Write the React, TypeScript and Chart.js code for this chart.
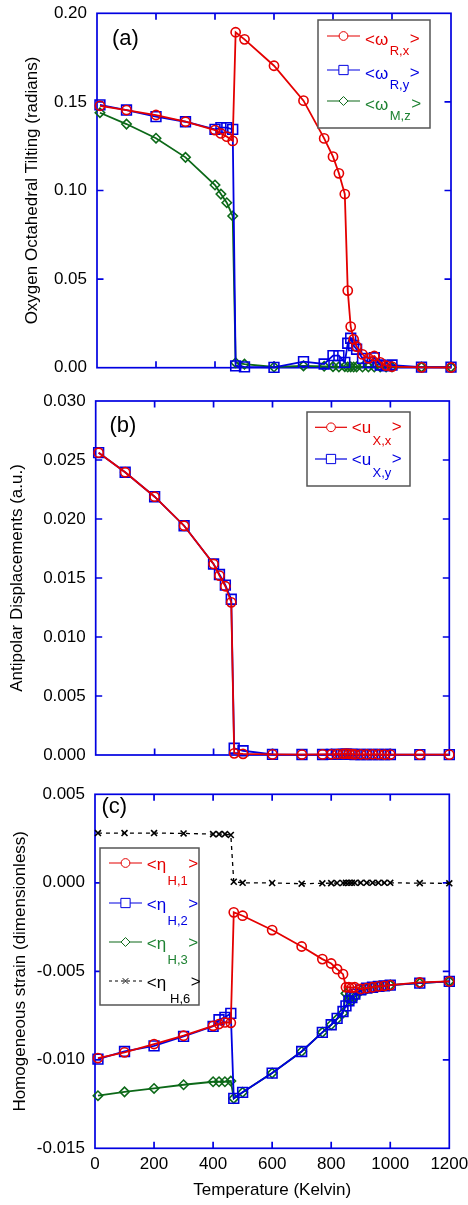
import React, { useEffect, useRef } from 'react';
import { Chart, registerables } from 'chart.js';

Chart.register(...registerables);

const FONT = "'Liberation Sans', Arial, Helvetica, sans-serif";

// ---------- data ----------
const TEMPS = [10, 100, 200, 300, 400, 420, 440, 460, 470, 500, 600, 700, 770, 800, 820, 840, 850, 860, 870, 880, 900, 920, 940, 960, 980, 1000, 1100, 1200];

const OMEGA_RX = [0.1478, 0.1454, 0.1426, 0.1388, 0.1341, 0.1322, 0.1304, 0.1280, 0.1893, 0.1853, 0.1704, 0.1507, 0.1294, 0.1191, 0.1097, 0.0980, 0.0435, 0.0232, 0.0160, 0.0119, 0.0075, 0.0053, 0.0066, 0.0030, 0.0012, 0.0006, 0.0002, 0.0001];
const OMEGA_RY = [0.1483, 0.1454, 0.1417, 0.1388, 0.1345, 0.1355, 0.1355, 0.1345, 0.0010, 0.0005, 0.0002, 0.0034, 0.0021, 0.0068, 0.0068, 0.0030, 0.0138, 0.0166, 0.0125, 0.0104, 0.0053, 0.0030, 0.0056, 0.0015, 0.0010, 0.0015, 0.0003, 0.0003];
const OMEGA_MZ = [0.1439, 0.1375, 0.1295, 0.1187, 0.1031, 0.0980, 0.0931, 0.0856, 0.0028, 0.0020, 0.0004, 0.0010, 0.0008, 0.0006, 0.0005, 0.0006, 0.0004, 0.0005, 0.0004, 0.0005, 0.0004, 0.0005, 0.0004, 0.0005, 0.0004, 0.0004, 0.0003, 0.0003];

const U_XX = [0.02562, 0.02396, 0.02189, 0.01943, 0.01619, 0.01520, 0.01430, 0.01294, 0.00014, 0.00010, 0.00005, 0.00004, 0.00005, 0.00006, 0.00008, 0.00010, 0.00012, 0.00010, 0.00008, 0.00006, 0.00006, 0.00005, 0.00006, 0.00005, 0.00004, 0.00004, 0.00003, 0.00003];
const U_XY = [0.02562, 0.02396, 0.02189, 0.01943, 0.01619, 0.01530, 0.01440, 0.01320, 0.00057, 0.00036, 0.00005, 0.00004, 0.00004, 0.00005, 0.00005, 0.00006, 0.00006, 0.00005, 0.00005, 0.00004, 0.00004, 0.00004, 0.00004, 0.00004, 0.00004, 0.00004, 0.00003, 0.00003];

const ETA_H1 = [-0.00990, -0.00958, -0.00911, -0.00864, -0.00808, -0.00798, -0.00789, -0.00791, -0.00167, -0.00186, -0.00267, -0.00360, -0.00431, -0.00456, -0.00488, -0.00516, -0.00590, -0.00590, -0.00592, -0.00590, -0.00600, -0.00595, -0.00590, -0.00585, -0.00582, -0.00578, -0.00563, -0.00557];
const ETA_H2 = [-0.00996, -0.00953, -0.00921, -0.00868, -0.00811, -0.00774, -0.00760, -0.00738, -0.01218, -0.01184, -0.01075, -0.00953, -0.00845, -0.00802, -0.00766, -0.00727, -0.00695, -0.00667, -0.00648, -0.00629, -0.00605, -0.00595, -0.00590, -0.00585, -0.00582, -0.00578, -0.00567, -0.00557];
const ETA_H3 = [-0.01203, -0.01181, -0.01162, -0.01141, -0.01124, -0.01124, -0.01124, -0.01120, -0.01218, -0.01184, -0.01075, -0.00953, -0.00845, -0.00802, -0.00770, -0.00736, -0.00625, -0.00660, -0.00665, -0.00645, -0.00610, -0.00600, -0.00592, -0.00585, -0.00582, -0.00578, -0.00567, -0.00557];
const ETA_H6 = [0.00281, 0.00281, 0.00281, 0.00279, 0.00275, 0.00275, 0.00275, 0.00270, 0.00006, 0.00000, -0.00001, -0.00005, -0.00003, -0.00002, -0.00001, -0.00001, 0.00000, 0.00000, 0.00000, 0.00000, 0.00000, 0.00000, 0.00000, 0.00000, 0.00000, 0.00000, -0.00002, -0.00003];

const X_TICKS = [0, 200, 400, 600, 800, 1000, 1200];
const Y_TICKS_A = [0, 0.05, 0.1, 0.15, 0.2];
const Y_TICKS_B = [0, 0.005, 0.01, 0.015, 0.02, 0.025, 0.03];
const Y_TICKS_C = [-0.015, -0.01, -0.005, 0, 0.005];

const X_TITLE = 'Temperature (Kelvin)';
const Y_TITLE_A = 'Oxygen Octahedral Tilting (radians)';
const Y_TITLE_B = 'Antipolar Displacements (a.u.)';
const Y_TITLE_C = 'Homogeneous strain (dimensionless)';

const LEGEND_A = [
  { main: '<\u03c9', sub: 'R,x' },
  { main: '<\u03c9', sub: 'R,y' },
  { main: '<\u03c9', sub: 'M,z' },
];
const LEGEND_B = [
  { main: '<u', sub: 'X,x' },
  { main: '<u', sub: 'X,y' },
];
const LEGEND_C = [
  { main: '<\u03b7', sub: 'H,1' },
  { main: '<\u03b7', sub: 'H,2' },
  { main: '<\u03b7', sub: 'H,3' },
  { main: '<\u03b7', sub: 'H,6' },
];

// ---------- styles ----------
const RED = 'rgb(228,0,0)';
const BLUE = 'rgb(0,0,225)';
const GREEN = 'rgb(12,105,24)';
const GREEN_TXT = 'rgb(30,130,50)';
const BLACK = '#000';
const AXIS = 'rgb(0,0,225)';
const W = 468;

type Style = { color: string; text: string; point: string; radius: number; width: number; dash?: number[] };
const S_RED: Style = { color: RED, text: RED, point: 'circle', radius: 4.6, width: 1.8 };
const S_BLUE: Style = { color: BLUE, text: BLUE, point: 'rect', radius: 6.9, width: 1.8 };
const S_GREEN: Style = { color: GREEN, text: GREEN_TXT, point: 'rectRot', radius: 4.7, width: 1.8 };
const S_BLACK: Style = { color: BLACK, text: BLACK, point: 'crossRot', radius: 4.2, width: 1.3, dash: [4, 4] };

type Panel = {
  top: number; height: number;
  area: { left: number; right: number; top: number; bottom: number };
  yMin: number; yMax: number; yTicks: number[]; dec: number;
  yTitle: string; yTitlePad: number; showX: boolean;
  series: { values: number[]; style: Style }[];
  label: { text: string; x: number; y: number };
  legend: {
    box: [number, number, number, number]; lineX0: number; lineX1: number; textX: number;
    rows: number[]; mainDy: number; subDy: number; gtDy: number; items: { main: string; sub: string }[]; styles: Style[];
  };
};

const PANELS: Panel[] = [
  {
    top: 0, height: 380,
    area: { left: 97, right: 451, top: 13.3, bottom: 367.7 },
    yMin: 0, yMax: 0.2, yTicks: Y_TICKS_A, dec: 2, yTitle: Y_TITLE_A, yTitlePad: 22.5, showX: false,
    series: [
      { values: OMEGA_RX, style: S_RED },
      { values: OMEGA_RY, style: S_BLUE },
      { values: OMEGA_MZ, style: S_GREEN },
    ],
    label: { text: '(a)', x: 112, y: 45 },
    legend: {
      box: [318, 20, 430, 128], lineX0: 327, lineX1: 360, textX: 365,
      rows: [36, 70, 101], mainDy: 9, subDy: 19, gtDy: 7.5, items: LEGEND_A, styles: [S_RED, S_BLUE, S_GREEN],
    },
  },
  {
    top: 380, height: 387,
    area: { left: 95.7, right: 449.3, top: 401, bottom: 755 },
    yMin: 0, yMax: 0.03, yTicks: Y_TICKS_B, dec: 3, yTitle: Y_TITLE_B, yTitlePad: 6.8, showX: false,
    series: [
      { values: U_XX, style: S_RED },
      { values: U_XY, style: S_BLUE },
    ],
    label: { text: '(b)', x: 109.5, y: 432 },
    legend: {
      box: [307, 412, 410, 486], lineX0: 315, lineX1: 347, textX: 351.7,
      rows: [427.3, 459], mainDy: 6, subDy: 17.5, gtDy: 5, items: LEGEND_B, styles: [S_RED, S_BLUE],
    },
  },
  {
    top: 767, height: 438,
    area: { left: 95, right: 449.3, top: 794.3, bottom: 1148.3 },
    yMin: -0.015, yMax: 0.005, yTicks: Y_TICKS_C, dec: 3, yTitle: Y_TITLE_C, yTitlePad: 10.5, showX: true,
    series: [
      { values: ETA_H1, style: S_RED },
      { values: ETA_H2, style: S_BLUE },
      { values: ETA_H3, style: S_GREEN },
      { values: ETA_H6, style: S_BLACK },
    ],
    label: { text: '(c)', x: 101.5, y: 813 },
    legend: {
      box: [100, 848, 199, 1005], lineX0: 109, lineX1: 142, textX: 146.7,
      rows: [863, 903, 942, 981], mainDy: 7, subDy: 22, gtDy: 6, items: LEGEND_C, styles: [S_RED, S_BLUE, S_GREEN, S_BLACK],
    },
  },
];

function drawMarker(ctx: CanvasRenderingContext2D, st: Style, x: number, y: number) {
  const r = st.radius;
  ctx.beginPath();
  if (st.point === 'circle') {
    ctx.arc(x, y, r, 0, Math.PI * 2);
  } else if (st.point === 'rect') {
    const s = r * Math.SQRT1_2;
    ctx.rect(x - s, y - s, 2 * s, 2 * s);
  } else if (st.point === 'rectRot') {
    ctx.moveTo(x - r, y); ctx.lineTo(x, y - r); ctx.lineTo(x + r, y); ctx.lineTo(x, y + r); ctx.closePath();
  } else {
    const s = r * Math.SQRT1_2;
    ctx.moveTo(x - s, y - s); ctx.lineTo(x + s, y + s);
    ctx.moveTo(x + s, y - s); ctx.lineTo(x - s, y + s);
  }
  if (st.point !== 'crossRot') { ctx.fillStyle = '#fff'; ctx.fill(); }
  ctx.stroke();
}

function PanelChart({ p }: { p: Panel }) {
  const ref = useRef<HTMLCanvasElement | null>(null);
  useEffect(() => {
    const canvas = ref.current;
    if (!canvas) return;
    const off = p.top;
    const framePlugin = {
      id: 'frame' + p.top,
      beforeDatasetsDraw(chart: any) {
        const { ctx, chartArea: a, scales } = chart;
        ctx.save();
        ctx.strokeStyle = AXIS;
        ctx.lineWidth = 1.7;
        ctx.setLineDash([]);
        ctx.strokeRect(a.left, a.top, a.right - a.left, a.bottom - a.top);
        ctx.beginPath();
        X_TICKS.forEach((v) => {
          if (v === 0 || v === 1200) return;
          const px = scales.x.getPixelForValue(v);
          ctx.moveTo(px, a.bottom); ctx.lineTo(px, a.bottom - 6.5);
          ctx.moveTo(px, a.top); ctx.lineTo(px, a.top + 6.5);
        });
        p.yTicks.forEach((v, i) => {
          if (i === 0 || i === p.yTicks.length - 1) return;
          const py = scales.y.getPixelForValue(v);
          ctx.moveTo(a.left, py); ctx.lineTo(a.left + 6.5, py);
          ctx.moveTo(a.right, py); ctx.lineTo(a.right - 6.5, py);
        });
        ctx.stroke();
        ctx.restore();
      },
      afterDatasetsDraw(chart: any) {
        const ctx: CanvasRenderingContext2D = chart.ctx;
        ctx.save();
        ctx.fillStyle = '#000';
        ctx.font = `22px ${FONT}`;
        ctx.textBaseline = 'alphabetic';
        ctx.textAlign = 'left';
        ctx.fillText(p.label.text, p.label.x, p.label.y - off);
        const L = p.legend;
        const [x0, y0, x1, y1] = L.box;
        ctx.fillStyle = '#fff';
        ctx.fillRect(x0, y0 - off, x1 - x0, y1 - y0);
        ctx.strokeStyle = '#555';
        ctx.lineWidth = 1.5;
        ctx.strokeRect(x0, y0 - off, x1 - x0, y1 - y0);
        L.items.forEach((it, i) => {
          const st = L.styles[i];
          const y = L.rows[i] - off;
          ctx.strokeStyle = st.color;
          ctx.lineWidth = st.dash ? 1 : 1.2;
          ctx.setLineDash(st.dash ? [3, 3] : []);
          ctx.beginPath();
          ctx.moveTo(L.lineX0, y); ctx.lineTo(L.lineX1, y);
          ctx.stroke();
          ctx.setLineDash([]);
          ctx.lineWidth = 1;
          drawMarker(ctx, { ...st, radius: st.radius * 0.95 }, (L.lineX0 + L.lineX1) / 2, y);
          ctx.fillStyle = st.text;
          ctx.font = `17px ${FONT}`;
          ctx.fillText(it.main, L.textX, y + L.mainDy);
          const mw = ctx.measureText(it.main).width;
          ctx.font = `13px ${FONT}`;
          const sx = L.textX + mw + (it.sub === 'H,6' ? 4 : 1.5);
          ctx.fillText(it.sub, sx, y + L.subDy);
          const sw = ctx.measureText(it.sub).width;
          ctx.font = `17px ${FONT}`;
          ctx.fillText('>', sx + sw + 0.5, y + L.gtDy);
        });
        ctx.restore();
      },
    };

    const tickFont = { family: FONT, size: 17 };
    const titleFont = { family: FONT, size: 17 };
    const canvasBottom = p.top + p.height;

    const chart = new Chart(canvas, {
      type: 'line',
      data: {
        datasets: p.series.map((s) => ({
          data: TEMPS.map((t, i) => ({ x: t, y: s.values[i] })),
          borderColor: s.style.color,
          backgroundColor: 'rgba(0,0,0,0)',
          borderWidth: s.style.width,
          borderDash: s.style.dash || [],
          pointStyle: s.style.point as any,
          pointRadius: s.style.radius,
          pointBorderWidth: 1.6,
          pointBorderColor: s.style.color,
          pointBackgroundColor: 'rgba(0,0,0,0)',
          tension: 0,
          fill: false,
          clip: false as any,
        })),
      },
      options: {
        responsive: false,
        animation: false,
        devicePixelRatio: 1,
        events: [],
        layout: {
          padding: {
            left: 0,
            top: p.area.top - p.top,
            right: W - p.area.right,
            bottom: p.showX ? 0 : canvasBottom - p.area.bottom,
          },
        },
        plugins: { legend: { display: false }, tooltip: { enabled: false } },
        scales: {
          x: {
            type: 'linear',
            min: 0,
            max: 1200,
            display: p.showX,
            afterBuildTicks: (s: any) => { s.ticks = X_TICKS.map((v) => ({ value: v })); },
            afterFit: (s: any) => {
              if (p.showX) s.height = canvasBottom - p.area.bottom;
              s.paddingLeft = 0;
              s.paddingRight = 0;
            },
            grid: { display: false, drawTicks: false },
            border: { display: false },
            ticks: {
              padding: 6, color: '#000', font: tickFont, maxRotation: 0, autoSkip: false,
              callback: (v: any) => String(Math.round(Number(v))),
            },
            title: { display: true, text: X_TITLE, color: '#000', font: titleFont, padding: { top: 0, bottom: 4 } },
          },
          y: {
            type: 'linear',
            min: p.yMin,
            max: p.yMax,
            afterBuildTicks: (s: any) => { s.ticks = p.yTicks.map((v) => ({ value: v })); },
            afterFit: (s: any) => {
              s.width = p.area.left;
              s.paddingTop = 0;
              s.paddingBottom = 0;
            },
            grid: { display: false, drawTicks: false },
            border: { display: false },
            ticks: {
              padding: 10,
              color: '#000',
              font: tickFont,
              callback: (v: any) => Number(v).toFixed(p.dec),
            },
            title: { display: true, text: p.yTitle, color: '#000', font: titleFont, padding: { top: p.yTitlePad, bottom: 0 } },
          },
        },
      } as any,
      plugins: [framePlugin],
    });
    return () => chart.destroy();
  }, [p]);
  return (
    <canvas
      ref={ref}
      width={W}
      height={p.height}
      style={{ position: 'absolute', left: 0, top: p.top, width: W, height: p.height, display: 'block' }}
    />
  );
}

export default function App() {
  return (
    <div style={{ position: 'absolute', left: 0, top: 0, width: W, height: 1205, background: '#fff', overflow: 'hidden' }}>
      {PANELS.map((p) => (
        <PanelChart key={p.top} p={p} />
      ))}
    </div>
  );
}
